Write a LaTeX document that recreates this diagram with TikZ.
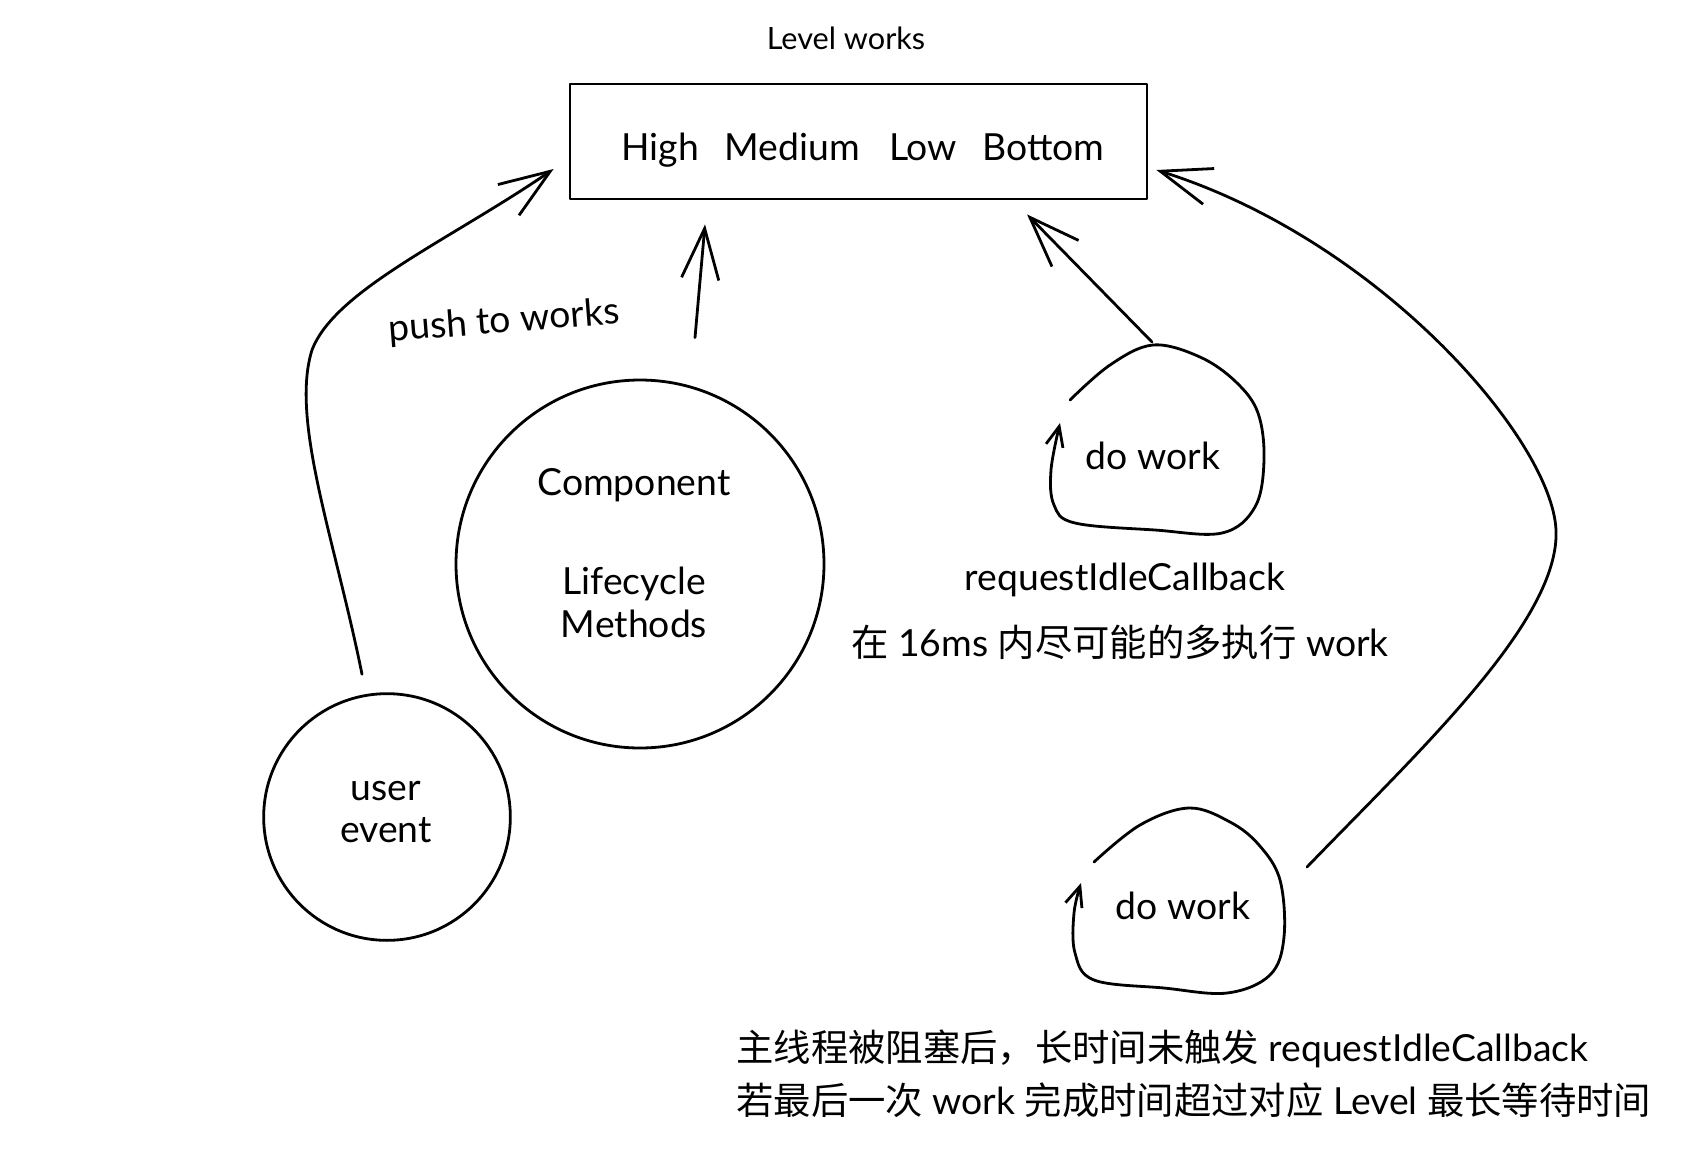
\documentclass[tikz,border=0pt]{standalone}
\usepackage{fontspec}
\setmainfont{Lato}
\newfontfamily\cjk{Noto Sans CJK SC}
\usetikzlibrary{arrows.meta}
\begin{document}
\begin{tikzpicture}[x=0.75pt,y=-0.75pt,
  line width=2.1pt, line cap=round, line join=round,
  arr/.style={-{Straight Barb[length=38pt,width=28pt]}},
  sarr/.style={-{Straight Barb[length=15pt,width=13pt]}},
  txt/.style={font=\fontsize{28pt}{32pt}\selectfont, inner sep=0pt, align=center},
  small/.style={font=\fontsize{23pt}{27pt}\selectfont, inner sep=0pt},
  circ/.style={draw, circle, inner sep=0pt}]
\useasboundingbox (0,0) rectangle (1696,1158);
\fill[white] (0,0) rectangle (1696,1158);

% title and box
\node[small] (lvl) at (846,38) {Level works};
\node[draw, minimum width=432.75pt, minimum height=86.25pt, inner sep=0pt] (box) at (858.5,141.5) {};
\node[txt] (levels) at (863,150) {High\hspace{19pt}Medium\hspace{22pt}Low\hspace{19pt}Bottom};

% circles
\node[circ, minimum size=276pt] (comp) at (640,564) {};
\node[txt] (comptext) at (634,553) {Component\\[42pt]Lifecycle\\Methods};
\node[circ, minimum size=185pt] (ue) at (387,817) {};
\node[txt] (uetext) at (386,812) {user\\event};

% push to works
\node[txt, rotate=4.5] (push) at (504,322) {push to works};

% do work 1
\node[txt] (dw1) at (1153,456) {do work};
\draw[sarr] plot[smooth, tension=0.6] coordinates {(1070,400) (1110,365) (1153,345) (1200,357) (1236,382) (1258,413) (1264,460) (1255,507) (1222,533) (1155,530) (1075,523) (1054,505) (1051,470) (1060,423)};
\node[txt] (ric) at (1125,580) {requestIdleCallback};
\node[txt] (line16) at (1120,642) {{\cjk 在} 16ms {\cjk 内尽可能的多执行} work};

% do work 2
\node[txt] (dw2) at (1183,906) {do work};
\draw[sarr] plot[smooth, tension=0.6] coordinates {(1094,862) (1140,825) (1189,808) (1230,822) (1259,845) (1280,880) (1284,937) (1270,975) (1227,993) (1164,988) (1094,980) (1075,953) (1074,913) (1081,883)};

% bottom notes
\node[txt, anchor=west] (note1) at (735,1049) {{\cjk 主线程被阻塞后，长时间未触发} requestIdleCallback};
\node[txt, anchor=west] (note2) at (735,1100) {{\cjk 若最后一次} work {\cjk 完成时间超过对应} Level {\cjk 最长等待时间}};

% connectors
\draw[arr] ([shift={(-25,-18)}]ue.north) .. controls (335,540) and (290,420) .. (312,350)
   .. controls (335,290) and (450,240) .. ([shift={(-15,27.5)}]box.west);
\draw[arr] ([shift={(55,-41)}]comp.north) -- ([shift={(-153.5,24)}]box.south);
\draw[arr] (1152,342) -- ([shift={(168.5,14)}]box.south);
\draw[arr] (1307,867) .. controls (1420,750) and (1560,620) .. (1556,530)
   .. controls (1552,440) and (1380,240) .. ([shift={(8,28.5)}]box.east);
\end{tikzpicture}
\end{document}
